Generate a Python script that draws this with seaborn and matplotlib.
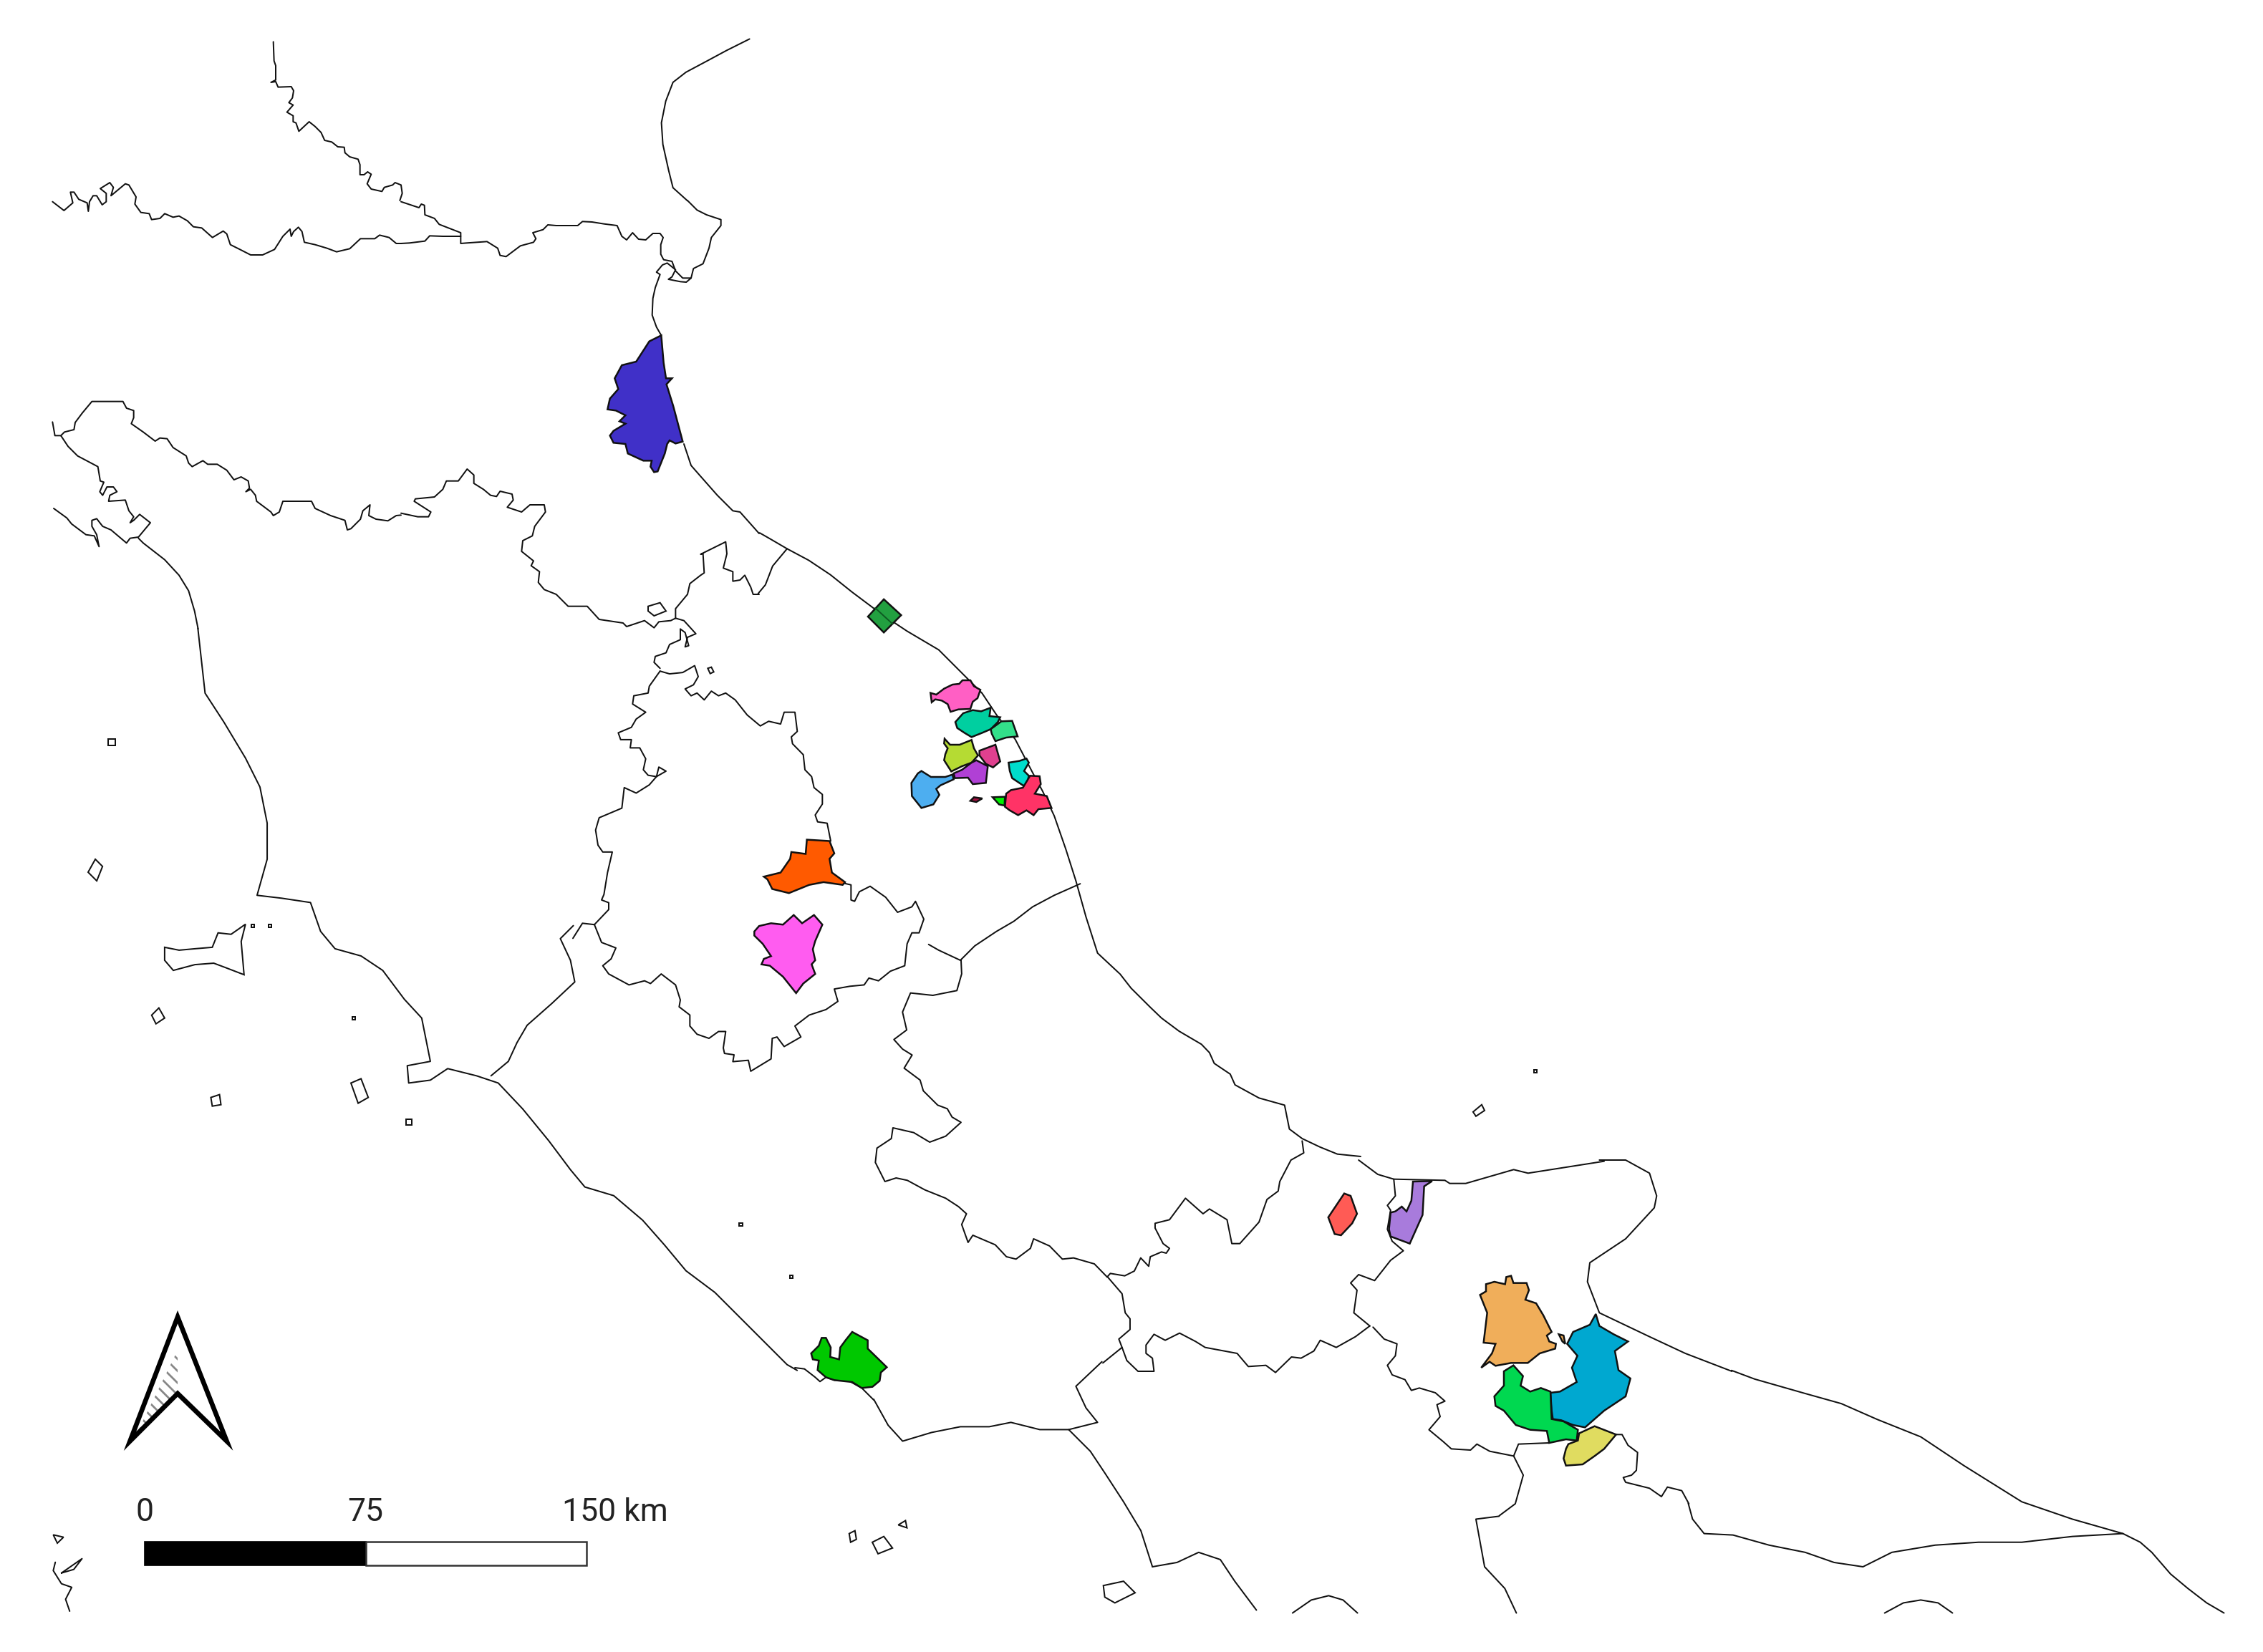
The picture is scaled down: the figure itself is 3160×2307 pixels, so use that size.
import matplotlib
matplotlib.use("Agg")
import matplotlib.pyplot as plt
import seaborn as sns

sns.set_theme(style="white")

# the outlines were read from the overview (1567 wide) and from crops of the picture
# crop = (left, top, x factor, y factor)
VIEW = (0, 0, 1567 / 3160, 1567 / 3160)
CROP_NW = (60, 40, 3, 3)
CROP_DELTA = (560, 280, 3, 3)
CROP_LIG = (60, 540, 3, 3)
CROP_ROM = (560, 620, 3, 3)
CROP_UMB = (800, 920, 3, 2.613)
CROP_ABR = (1200, 1360, 2.24, 3)
CROP_MOL = (1540, 1620, 2.24, 3)
CROP_PUG = (2020, 1620, 3, 3)
CROP_MAR = (1220, 920, 3, 3)
CROP_SW = (60, 1800, 1.742, 3)
CROP_LAT = (1110, 1840, 3, 3)

# coast and borders
adriatic_top = [(519,27),(503,35),(490,42),(475,50),(466,57),(461,70),(458,85),(459,100),(463,118),(466,130),(476,139)]
veneto_a = [(965,55),(968,135),(975,155),(975,215),(955,225),(975,222),(985,245),(1040,243),(1050,260),(1045,290),(1030,310),(1048,320),(1022,350),(1048,365),(1048,390),(1060,395),(1072,430),(1115,390),(1140,410),(1165,435),(1180,468),(1210,475),(1235,495),(1262,497),(1265,520),(1285,537),(1320,547),(1328,570),(1328,612),(1345,612),(1360,600),(1375,610),(1358,650),(1375,672),(1420,682),(1430,665),(1465,655),(1475,645),(1500,655),(1505,690),(1495,720)]
veneto_b = [(0,5),(75,30),(85,15),(98,20),(100,60),(140,75),(160,100),(250,135),(250,150)]
emilia_a = [(40,725),(88,762),(125,730),(115,685),(130,685),(150,715),(185,730),(190,765),(195,725),(210,700),(225,700),(248,738),(265,725),(265,690),(240,670),(280,645),(295,665),(285,700),(345,650),(360,655),(390,705),(385,735),(410,770),(445,775),(455,800),(490,795),(510,775),(545,790),(570,785),(605,805),(630,830),(665,835),(710,875),(755,848),(770,860),(785,905),(825,925),(870,948),(920,948),(970,925),(1005,870),(1035,840),(1040,870),(1050,850),(1070,832),(1085,850),(1095,895),(1140,905),(1190,920),(1230,935),(1285,922),(1330,880),(1390,880),(1410,865),(1450,875),(1480,900),(1500,900)]
emilia_b = [(0,180),(35,178),(100,170),(120,148),(175,150),(210,150),(250,150),(250,180),(275,178),(360,172),(405,200),(415,230),(440,235),(500,190),(555,175),(565,160),(552,135),(595,122),(615,102),(650,105),(740,105),(760,88),(800,90),(850,98),(905,105),(925,150),(945,165),(970,135),(995,162),(1025,165),(1055,138),(1085,138),(1098,155),(1088,185),(1088,225),(1100,248),(1135,255),(1150,295),(1180,325),(1215,325),(1225,285),(1265,265),(1290,200),(1300,155),(1340,105),(1340,80),(1280,60),(1240,40),(1200,0)]
delta = [(1215,325),(1195,342),(1170,340),(1120,330),(1135,320),(1150,290),(1115,262),(1095,270),(1070,300),(1085,310),(1065,365),(1055,410),(1052,480),(1070,530),(1090,565)]
liguria = [(40,148),(50,205),(75,205),(90,190),(130,180),(135,150),(165,110),(205,62),(295,62),(335,62),(350,90),(380,100),(380,130),(370,155),(420,190),(470,228),(490,215),(520,218),(545,255),(600,290),(610,320),(625,335),(670,310),(690,325),(730,325),(770,350),(800,390),(830,378),(860,395),(865,425),(850,440),(870,430),(890,455),(895,480),(955,525),(965,540),(990,525),(1005,480),(1125,480),(1140,510),(1205,540),(1265,560),(1275,600),(1290,595),(1330,555),(1340,520),(1370,495),(1365,540),(1395,555),(1445,562),(1480,540),(1500,538)]
spezia = [(75,205),(105,250),(145,290),(230,335),(240,395),(255,400),(238,440),(250,455),(268,420),(295,420),(310,440),(280,455),(275,480),(345,475),(360,520),(380,545),(365,570),(380,560),(405,535),(450,570),(400,630),(365,635),(350,655),(285,600),(250,585),(225,553),(205,560),(205,585),(225,620),(235,670),(215,625),(180,620),(120,575),(100,550),(45,510)]
tuscan_coast_a = [(400,635),(420,655),(510,725),(570,790),(610,855),(635,940),(650,1015)]
romagna = [(0,290),(70,305),(115,305),(125,285),(55,240),(60,230),(140,222),(175,190),(190,155),(240,155),(277,105),(305,130),(305,165),(345,190),(375,215),(400,220),(415,198),(465,210),(470,235),(445,265),(505,285),(540,255),(600,255),(605,285),(560,345),(550,385),(510,405),(505,450),(555,490),(545,510),(580,535),(575,580),(600,610),(650,630),(700,680),(780,680),(830,735),(930,750),(945,765),(1020,740),(1060,770),(1080,745),(1130,740),(1150,730)]
marche_north = [(1150,730),(1150,690),(1200,630),(1210,585),(1255,550),(1270,540),(1265,460),(1255,462),(1360,410),(1365,460),(1350,520),(1390,535),(1390,575),(1420,570),(1440,550),(1465,600),(1475,630),(1500,630)]
marche_link = [(525,411),(530,405),(535,392),(545,380)]
junction_loop = [(1150,730),(1185,740),(1235,795),(1200,810),(1190,850),(1205,845),(1190,790),(1170,775),(1170,820),(1125,840),(1110,875),(1065,890),(1060,915),(1085,940)]
umbria_north = [(365,45),(405,55),(460,50),(510,25),(525,65),(505,95),(470,110),(495,135),(520,125),(550,150),(580,118),(610,135),(640,125),(680,150),(730,205),(785,245),(820,228),(870,238),(885,195),(930,195),(940,265),(915,285),(920,310),(965,350),(972,405),(1000,430),(1010,470),(1045,495),(1045,530),(1015,570),(1025,595),(1065,600),(1080,665)]
umbria_west = [(365,45),(320,100),(315,125),(255,135),(250,165),(305,195),(265,220),(245,250),(190,270),(200,295),(245,295),(240,325),(280,325),(305,365),(295,405),(315,425),(350,430),(390,410),(360,395),(350,430),(320,460),(265,490),(215,470),(205,545),(110,580),(95,625),(105,680),(125,705),(165,705),(145,780),(130,860),(120,880),(150,890),(150,915),(90,970)]
umbria_south = [(90,970),(120,1035),(180,1055),(160,1095),(125,1120),(150,1150),(235,1190),(300,1175),(325,1185),(370,1150),(430,1190),(450,1245),(445,1270),(490,1300),(490,1340),(520,1370),(570,1385),(610,1360),(640,1360),(630,1420),(635,1440),(675,1445),(670,1470),(735,1465),(745,1505),(830,1460),(835,1385),(855,1380),(885,1415),(955,1380),(930,1340),(990,1300),(1060,1280),(1110,1250),(1095,1205),(1160,1195),(1220,1190),(1240,1165),(1280,1175),(1330,1140),(1390,1120),(1400,1040),(1420,1000),(1450,1000),(1470,950),(1435,885),(1420,905),(1360,925),(1310,870),(1245,830),(1200,850),(1180,885),(1165,880),(1165,825),(1140,820)]
umbria_lazio_a = [(90,970),(40,965),(0,1020)]
umbria_lazio_b = [(397,641),(388,650),(395,665),(398,680),(382,695),(365,710),(358,722),(352,735),(340,745)]
adriatic_mid = [(1185,1020),(1215,1110),(1250,1150),(1325,1235),(1390,1300),(1420,1305),(1500,1395)]
adriatic_low = [(526,369),(533,373),(545,380),(560,388),(575,398),(590,410),(610,425),(628,437),(650,450),(665,465),(680,480),(690,495),(703,512),(715,535),(722,548),(730,565),(738,588),(745,610),(752,635),(760,660),(775,674)]
adriatic_abr = [(815,0),(850,60),(910,140),(945,185),(1000,240),(1070,295),(1095,330),(1110,375),(1160,420),(1175,465),(1250,520),(1330,550),(1345,650),(1385,690),(1440,725),(1495,755),(1568,765)]
adriatic_mol = [(800,0),(860,60),(910,80),(1070,85),(1085,98),(1135,98),(1285,40),(1330,55),(1568,5)]
gargano = [(640,0),(750,0),(850,55),(880,150),(870,200),(750,330),(600,430),(590,510),(640,640),(850,740),(1000,810),(1195,885)]
ionian = [(1199,949),(1215,955),(1250,965),(1275,972),(1300,983),(1330,995),(1360,1015),(1400,1040),(1435,1052),(1470,1062),(1482,1068),(1490,1075),(1503,1090),(1515,1100),(1528,1110),(1540,1117)]
marche_abruzzo = [(748,612),(730,620),(715,628),(702,638),(690,645),(675,655),(665,665),(650,658),(643,654)]
abruzzo_a = [(318,-58),(320,0),(305,70),(230,90),(160,80),(135,160),(148,235),(108,275),(135,315),(165,340),(140,395),(190,445),(200,490),(245,550),(275,565),(290,600),(318,622),(270,680),(220,705),(170,665),(105,645),(100,690),(55,730),(50,790),(80,870),(115,855),(150,865),(205,905),(270,940),(310,975),(335,1005),(320,1050),(340,1125),(355,1095),(425,1135),(460,1185),(490,1195),(535,1150),(545,1110),(595,1140),(635,1195),(670,1190),(735,1215),(775,1270)]
abruzzo_b = [(775,1270),(785,1255),(830,1265),(860,1245),(880,1190),(905,1225),(910,1185),(945,1165),(960,1170),(970,1150),(950,1130),(925,1065),(925,1045),(970,1030),(1020,940),(1075,1005),(1095,985),(1150,1030),(1165,1130),(1190,1130),(1250,1040),(1275,945),(1310,910),(1315,870),(1350,780),(1390,750),(1385,700)]
molise_a = [(15,490),(60,560),(70,640),(85,665),(85,710),(50,750),(60,785),(75,840),(110,885),(160,885),(155,830),(135,810),(135,775),(160,730),(195,755),(240,725),(290,760),(320,785),(420,810),(455,865),(510,860),(540,890),(590,825),(620,830),(660,800),(680,755),(730,785),(790,740),(835,695)]
molise_b = [(835,695),(785,640),(795,545),(775,515),(800,480),(850,505),(900,420),(940,380),(905,340),(890,290),(900,210),(890,190),(915,150),(910,80)]
campania_a = [(60,785),(0,850)]
campania_b = [(763,943),(745,960),(752,975),(760,985),(740,990)]
puglia_west = [(845,700),(880,750),(920,770),(915,820),(890,860),(905,900),(945,920),(965,965),(990,955),(1040,975),(1070,1010),(1045,1025),(1055,1075),(1020,1130),(1065,1180),(1090,1210),(1150,1215),(1170,1190),(1210,1220),(1285,1240),(1315,1320),(1290,1440),(1240,1490)]
puglia_top = [(1285,1240),(1300,1190),(1395,1185)]
campania_east = [(1038,1050),(1022,1052),(1028,1085),(1042,1100),(1050,1117)]
basilicata_a = [(710,1150),(735,1150),(760,1195),(800,1225),(795,1300),(775,1320),(740,1330),(750,1350),(850,1375),(900,1410),(925,1370),(985,1385),(1015,1440)]
basilicata_b = [(1169,1041),(1172,1052),(1180,1062),(1200,1063),(1225,1070),(1250,1075),(1270,1082),(1290,1085),(1310,1075),(1340,1070),(1370,1068),(1400,1068),(1435,1064),(1470,1062)]
tuscan_coast_b = [(137,435),(142,480),(155,500),(170,525),(180,545),(185,570),(185,595),(178,620),(195,622),(215,625),(222,645),(232,657),(250,662),(265,672),(280,692),(292,705),(298,735),(282,738),(283,750),(298,748),(310,740),(330,745),(345,750),(362,768),(380,790),(395,810),(405,822),(425,828),(445,845),(460,862),(475,880),(495,895),(510,910),(530,930),(545,945),(552,949)]
lazio_coast = [(0,210),(40,215),(85,250),(105,268),(130,250),(165,262),(220,262),(280,295),(330,345)]
lazio_coast_b = [(605,969),(615,987),(625,998),(645,992),(665,988),(685,988),(700,985),(720,990),(740,990),(755,1005),(765,1020),(778,1040),(790,1060),(798,1085)]
lazio_south = [(798,1085),(815,1082),(830,1075),(845,1080),(855,1095),(870,1115)]
bottom_a = [(895,1117),(908,1108),(920,1105),(930,1108),(940,1117)]
bottom_b = [(1305,1117),(1318,1110),(1330,1108),(1342,1110),(1352,1117)]
sw_squiggle = [(30,1145),(25,1180),(45,1235),(70,1250),(55,1300),(65,1350)]
sw_bit = [(45,1190),(95,1130),(75,1175),(45,1190)]

lines = [(adriatic_top,VIEW),(veneto_a,CROP_NW),(veneto_b,CROP_DELTA),(emilia_a,CROP_NW),(emilia_b,CROP_DELTA),(delta,CROP_DELTA),
         (liguria,CROP_LIG),(spezia,CROP_LIG),(tuscan_coast_a,CROP_LIG),(romagna,CROP_ROM),(marche_north,CROP_ROM),(marche_link,VIEW),
         (junction_loop,CROP_ROM),(umbria_north,CROP_UMB),(umbria_west,CROP_UMB),(umbria_south,CROP_UMB),(umbria_lazio_a,CROP_UMB),
         (umbria_lazio_b,VIEW),(adriatic_mid,CROP_DELTA),(adriatic_low,VIEW),(adriatic_abr,CROP_ABR),(adriatic_mol,CROP_MOL),
         (gargano,CROP_PUG),(ionian,VIEW),(marche_abruzzo,VIEW),(abruzzo_a,CROP_ABR),(abruzzo_b,CROP_ABR),(molise_a,CROP_MOL),
         (molise_b,CROP_MOL),(campania_a,CROP_MOL),(campania_b,VIEW),(puglia_west,CROP_MOL),(puglia_top,CROP_MOL),(campania_east,VIEW),
         (basilicata_a,CROP_PUG),(basilicata_b,VIEW),(tuscan_coast_b,VIEW),(lazio_coast,CROP_LAT),(lazio_coast_b,VIEW),(lazio_south,VIEW),
         (bottom_a,VIEW),(bottom_b,VIEW),(sw_squiggle,CROP_SW),(sw_bit,CROP_SW)]

# small islands
argentario = [(114,656),(124,658),(135,657),(147,656),(151,646),(160,647),(170,640),(167,652),(169,675),(156,670),(148,667),(135,668),(120,672),(114,665)]
isle_a = [(61,604),(66,595),(71,600),(67,610)]
isle_b = [(105,703),(110,698),(114,705),(108,709)]
isle_c = [(146,760),(152,758),(153,765),(147,766)]
isle_d = [(243,750),(250,747),(255,760),(248,764)]
isle_e = [(75,512),(80,512),(80,516),(75,516)]
isle_f = [(764,1098),(778,1095),(786,1103),(772,1110),(765,1106)]
isle_g = [(1020,770),(1026,765),(1028,769),(1022,773)]
isle_h = [(604,1068),(612,1064),(618,1072),(608,1076)]
isle_i = [(281,775),(285,775),(285,779),(281,779)]
isle_j = [(588,1062),(592,1060),(593,1066),(589,1068)]
isle_k = [(622,1056),(627,1053),(628,1058)]
dot_a = [(512,847),(514,847),(514,849),(512,849)]
dot_b = [(547,883),(549,883),(549,885),(547,885)]
dot_c = [(1062,741),(1064,741),(1064,743),(1062,743)]
dot_d = [(174,640),(176,640),(176,642),(174,642)]
dot_e = [(186,640),(188,640),(188,642),(186,642)]
dot_f = [(244,704),(246,704),(246,706),(244,706)]
islands = [argentario, isle_a, isle_b, isle_c, isle_d, isle_e, isle_f, isle_g, isle_h, isle_i, isle_j, isle_k,
           dot_a, dot_b, dot_c, dot_d, dot_e, dot_f]
lake_a = [(1035,680),(1085,665),(1110,700),(1060,720),(1035,700)]
lake_b = [(1285,940),(1300,935),(1310,955),(1295,962)]
sw_isle = [(25,1030),(50,1040),(35,1065)]

# municipalities
pesaro = [(1090,565),(1100,680),(1110,745),(1135,745),(1112,770),(1140,860),(1180,1010),(1150,1018),(1125,1005),(1115,1020),(1105,1060),(1075,1135),(1060,1138),(1045,1115),(1050,1090),(1015,1090),(950,1060),(940,1020),(890,1015),(875,985),(890,965),(940,935),(915,925),(940,900),(900,880),(865,875),(875,830),(910,790),(895,745),(925,690),(985,675),(1040,590)]
diamond = [(601,427),(612,415),(624,426),(612,438)]
perugia_n = [(800,795),(870,780),(910,730),(915,705),(975,712),(980,660),(1075,665),(1095,710),(1075,730),(1085,780),(1140,815),(1130,825),(1050,815),(990,825),(905,855),(835,840),(815,805)]
perugia_s = [(760,995),(780,975),(830,965),(880,970),(925,935),(960,965),(1010,935),(1045,970),(1015,1030),(1005,1060),(1015,1100),(1000,1115),(1015,1150),(965,1185),(935,1220),(880,1160),(825,1120),(790,1115),(800,1095),(830,1085),(795,1040),(760,1010)]
molise_red = [(755,140),(775,150),(795,225),(780,265),(745,315),(725,310),(705,240),(735,180)]
molise_purple = [(970,90),(1030,88),(1005,110),(1000,230),(960,350),(900,320),(895,290),(900,220),(915,215),(935,195),(950,215),(965,170)]
latina = [(68,150),(100,118),(112,85),(130,85),(150,125),(148,165),(185,175),(190,125),(212,95),(240,60),(305,95),(305,130),(385,208),(360,230),(355,265),(325,290),(280,295),(240,270),(165,262),(130,250),(95,220),(100,180),(75,175)]

m_pink = [(238,143),(262,150),(295,125),(330,108),(358,105),(372,90),(405,90),(420,115),(447,130),(435,165),(415,180),(405,210),(355,212),(322,222),(310,190),(285,175),(258,170),(243,182)]
m_teal = [(342,265),(375,228),(415,215),(450,220),(490,205),(485,240),(530,245),(520,265),(490,295),(455,310),(410,328),(380,310),(350,290)]
m_mint = [(490,295),(535,262),(580,260),(603,325),(555,330),(510,345),(495,315)]
m_lime = [(297,335),(320,360),(360,360),(410,340),(420,375),(437,405),(410,435),(370,450),(325,472),(295,425),(300,400),(310,375),(295,355)]
m_rose = [(443,385),(510,360),(530,430),(500,455),(470,440),(443,405)]
m_purple = [(335,480),(370,465),(410,435),(430,425),(478,450),(470,520),(415,525),(395,498),(340,500)]
m_blue = [(158,520),(185,480),(200,470),(240,495),(300,495),(330,485),(335,505),(280,530),(262,545),(275,570),(250,610),(200,625),(160,575)]
m_cyan = [(565,435),(610,428),(640,418),(650,435),(630,470),(650,490),(640,535),(625,530),(580,500),(570,470)]
m_red = [(555,565),(575,550),(625,540),(655,490),(695,492),(700,525),(675,565),(725,575),(745,625),(690,630),(670,655),(640,635),(605,655),(570,635),(550,620)]
m_green = [(498,580),(550,578),(548,615),(525,610)]
m_dark = [(405,595),(420,580),(455,585),(430,600)]

p_orange = [(140,565),(165,550),(165,520),(200,510),(245,520),(250,490),(270,485),(280,515),(335,515),(345,545),(330,585),(375,600),(405,650),(440,720),(420,735),(430,760),(458,770),(455,790),(390,810),(340,850),(270,850),(205,862),(180,845),(145,870),(190,810),(205,770),(155,765),(170,640),(150,590)]
p_sliver = [(470,730),(490,735),(497,770),(485,760)]
p_blue = [(505,770),(530,720),(600,690),(625,645),(640,695),(700,730),(760,760),(705,800),(720,880),(770,915),(750,990),(660,1050),(580,1120),(530,1110),(480,1090),(445,1085),(440,1050),(435,975),(475,970),(545,930),(525,870),(548,820)]
p_green = [(280,860),(320,905),(310,945),(350,970),(395,955),(435,970),(440,1085),(490,1095),(550,1130),(545,1175),(500,1170),(430,1185),(420,1135),(350,1130),(290,1110),(240,1050),(205,1030),(200,990),(240,945),(240,885)]
p_yellow = [(510,1190),(550,1175),(555,1145),(620,1115),(710,1150),(660,1210),(620,1240),(570,1275),(500,1280),(490,1250),(500,1210)]

parts = [(pesaro,CROP_DELTA,"#4030c8"),(diamond,VIEW,"#22a040"),(perugia_n,CROP_UMB,"#ff5a00"),(perugia_s,CROP_UMB,"#ff5cf0"),
         (molise_red,CROP_MOL,"#ff5b55"),(molise_purple,CROP_MOL,"#a87bdc"),(latina,CROP_LAT,"#00c800"),
         (m_pink,CROP_MAR,"#ff5fc4"),(m_teal,CROP_MAR,"#00cfa0"),(m_mint,CROP_MAR,"#33e08a"),(m_lime,CROP_MAR,"#b5db33"),
         (m_rose,CROP_MAR,"#e0408f"),(m_purple,CROP_MAR,"#b040d5"),(m_blue,CROP_MAR,"#4daef0"),(m_cyan,CROP_MAR,"#00ddcc"),
         (m_red,CROP_MAR,"#ff3366"),(m_green,CROP_MAR,"#00f000"),(m_dark,CROP_MAR,"#a01040"),
         (p_orange,CROP_PUG,"#f0ae5a"),(p_sliver,CROP_PUG,"#f0ae5a"),(p_blue,CROP_PUG,"#00a8d0"),(p_green,CROP_PUG,"#00d850"),(p_yellow,CROP_PUG,"#e0dc60")]

# scale bar and north arrow
scale_ticks = [0, 75, 150]
scale_labels = ["0", "75", "150 km"]
arrow_outline = [(90,998),(123,912),(157,998),(123,965)]
arrow_shade = [(123,935),(123,963),(96,990)]


def to_px(pts, crop):
    x0, y0, fx, fy = crop
    return [x0 + x / fx for x, y in pts], [y0 + y / fy for x, y in pts]


fig = plt.figure(figsize=(15.8, 11.535), dpi=200)
ax = fig.add_axes([0, 0, 1, 1])
ax.set_xlim(0, 3160)
ax.set_ylim(2307, 0)
ax.axis("off")

for shape, crop in lines:
    xs, ys = to_px(shape, crop)
    sns.lineplot(x=xs, y=ys, sort=False, estimator=None, color="#111111", linewidth=0.72, ax=ax, legend=False)

for shape in islands:
    xs, ys = to_px(shape, VIEW)
    ax.fill(xs, ys, facecolor="white", edgecolor="#111111", linewidth=0.72)
for shape, crop in [(lake_a, CROP_ROM), (lake_b, CROP_ROM), (sw_isle, CROP_SW)]:
    xs, ys = to_px(shape, crop)
    ax.fill(xs, ys, facecolor="white", edgecolor="#111111", linewidth=0.72)

for shape, crop, colour in parts:
    xs, ys = to_px(shape, crop)
    ax.fill(xs, ys, facecolor=colour, edgecolor="#111111", linewidth=0.9, zorder=3)

# darker line across the small diamond
xs, ys = to_px([(606,421),(618,432)], VIEW)
ax.plot(xs, ys, color="#0d5a22", linewidth=0.7, zorder=4)

# scale bar: 150 km = 617 px
km = 617 / 150
bar_x0, bar_y0, bar_h = 202, 2153, 33
ax.fill([bar_x0, bar_x0 + 75 * km, bar_x0 + 75 * km, bar_x0],
        [bar_y0, bar_y0, bar_y0 + bar_h, bar_y0 + bar_h], facecolor="black", edgecolor="black", linewidth=0.6, zorder=4)
ax.fill([bar_x0 + 75 * km, bar_x0 + 150 * km, bar_x0 + 150 * km, bar_x0 + 75 * km],
        [bar_y0, bar_y0, bar_y0 + bar_h, bar_y0 + bar_h], facecolor="white", edgecolor="#333333", linewidth=0.9, zorder=4)
for t, lab in zip(scale_ticks, scale_labels):
    left = bar_x0 + t * km
    ha = "center" if t < 150 else "left"
    xt = left if t < 150 else left - 34
    ax.text(xt, 2124, lab, ha=ha, va="baseline", fontsize=16, color="#222222", family="Roboto")

# north arrow
xs, ys = to_px(arrow_shade, VIEW)
ax.fill(xs, ys, facecolor="white", edgecolor="#888888", hatch="\\\\\\\\", linewidth=0, zorder=4)
xs, ys = to_px(arrow_outline, VIEW)
ax.fill(xs, ys, facecolor="none", edgecolor="black", linewidth=2.4, joinstyle="miter", zorder=5)

fig.savefig("out.png", dpi=200, facecolor="white")
